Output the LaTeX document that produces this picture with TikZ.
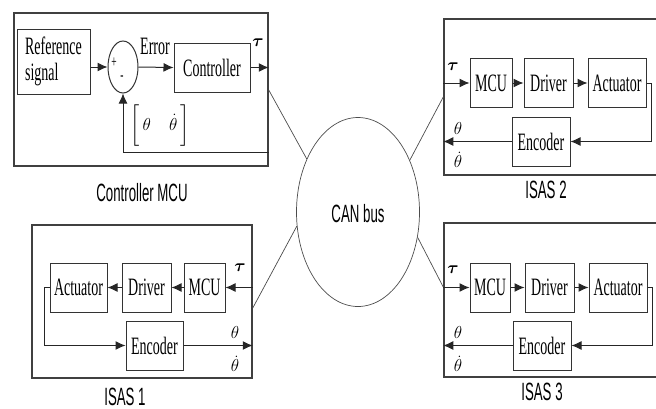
\documentclass[tikz,border=0pt]{standalone}
\usepackage{amsmath}
\usepackage{fontspec}
\setmainfont{Liberation Serif}[FakeStretch=0.56]
\newfontfamily\capfont{Liberation Sans}[FakeStretch=0.53]
\usetikzlibrary{shapes.geometric,arrows.meta}

\begin{document}
\begin{tikzpicture}[x=1pt, y=-1pt, line width=1pt, draw=black!85, >={Latex[length=10pt,width=9pt]},
	every node/.style={font=\fontsize{25}{26}\selectfont},
	blk/.style={draw=black!80, line width=1pt, inner sep=0pt, minimum height=49pt},
	frm/.style={draw=black!75, line width=1.5pt, inner sep=0pt},
	caption/.style={font=\capfont\fontsize{25}{26}\selectfont},
	sym/.style={font=\fontsize{18}{20}\selectfont, inner sep=0pt},
	bus/.style={draw=black!70, line width=0.7pt}]
	\useasboundingbox (0,0) rectangle (656,408);

	% controller MCU
	\node[frm, minimum width=254pt, minimum height=153pt] (cmcu) at (141,89.5) {};
	\node[blk, minimum width=73pt, minimum height=65pt, align=left] (ref) at (53.5,61.5) {Reference\\signal};
	\node[draw=black!80, line width=1pt, ellipse, minimum width=30pt, minimum height=52pt, inner sep=0pt] (sum) at (123,67) {};
	\node[font=\fontsize{17}{17}\selectfont, inner sep=0pt] (plus) at (114,63) {+};
	\node[font=\fontsize{17}{17}\selectfont, inner sep=0pt] (minus) at (122,78) {-};
	\node[blk, minimum width=76pt] (ctrl) at (212,67.5) {Controller};
	\node (err) at (155,46) {Error};
	\node[sym] (tau0) at (258,43) {$\boldsymbol{\tau}$};
	\node[sym] (fb0) at (160,126) {$\bigg[\,\theta\quad\dot{\theta}\,\bigg]$};
	\draw[->] (ref.east |- sum.west) -- (sum.west);
	\draw[->] (sum.east) -- (ctrl.west);
	\draw[->] (ctrl.east) -- (cmcu.east |- ctrl.east);
	\draw[->] (cmcu.east |- 0,152) -| (sum.south);
	\node[caption] (cmculbl) at (142,193) {Controller MCU};

	% CAN bus
	\node[bus, ellipse, minimum width=123pt, minimum height=189pt, inner sep=0pt] (can) at (358,212) {};
	\node[caption] (canlbl) at (358,214) {CAN bus};

	% ISAS 2
	\node[frm, minimum width=213pt, minimum height=156pt] (isas2) at (550.5,97) {};
	\node[blk, minimum width=42pt] (mcu2) at (491,83) {MCU};
	\node[blk, minimum width=49pt] (drv2) at (548.5,83) {Driver};
	\node[blk, minimum width=58pt] (act2) at (617,83) {Actuator};
	\node[blk, minimum width=58pt] (enc2) at (541,141.5) {Encoder};
	\draw[->] (isas2.west |- mcu2.west) -- (mcu2.west);
	\draw[->] (mcu2) -- (drv2);
	\draw[->] (drv2) -- (act2);
	\draw[->] (act2.east) -- ++(5,0) |- (enc2.east);
	\draw[->] (enc2.west) -- (isas2.west |- enc2.west);
	\node[sym] (tau2) at (453,67) {$\boldsymbol{\tau}$};
	\node[sym] (th2) at (458,128) {$\theta$};
	\node[sym] (thd2) at (458,160) {$\dot{\theta}$};
	\node[caption] (isas2lbl) at (546,190) {ISAS 2};

	% ISAS 3
	\node[frm, minimum width=213pt, minimum height=154pt] (isas3) at (550.5,300) {};
	\node[blk, minimum width=40pt] (mcu3) at (490,287.5) {MCU};
	\node[blk, minimum width=49pt] (drv3) at (549.5,287.5) {Driver};
	\node[blk, minimum width=58pt] (act3) at (618,287.5) {Actuator};
	\node[blk, minimum width=58pt] (enc3) at (542,345.5) {Encoder};
	\draw[->] (isas3.west |- mcu3.west) -- (mcu3.west);
	\draw[->] (mcu3) -- (drv3);
	\draw[->] (drv3) -- (act3);
	\draw[->] (act3.east) -- ++(5,0) |- (enc3.east);
	\draw[->] (enc3.west) -- (isas3.west |- enc3.west);
	\node[sym] (tau3) at (453,270) {$\boldsymbol{\tau}$};
	\node[sym] (th3) at (458,332) {$\theta$};
	\node[sym] (thd3) at (458,364) {$\dot{\theta}$};
	\node[caption] (isas3lbl) at (542,392) {ISAS 3};

	% ISAS 1
	\node[frm, minimum width=220pt, minimum height=153pt] (isas1) at (142,301.5) {};
	\node[blk, minimum width=57pt] (act1) at (78.5,287.5) {Actuator};
	\node[blk, minimum width=49pt] (drv1) at (146.5,287.5) {Driver};
	\node[blk, minimum width=41pt] (mcu1) at (204.5,287.5) {MCU};
	\node[blk, minimum width=57pt] (enc1) at (154.5,345.5) {Encoder};
	\draw[->] (isas1.east |- mcu1.east) -- (mcu1.east);
	\draw[->] (mcu1) -- (drv1);
	\draw[->] (drv1) -- (act1);
	\draw[->] (act1.west) -- ++(-5,0) |- (enc1.west);
	\draw[->] (enc1.east) -- (isas1.east |- enc1.east);
	\node[sym] (tau1) at (240,268) {$\boldsymbol{\tau}$};
	\node[sym] (th1) at (235,332) {$\theta$};
	\node[sym] (thd1) at (235,364) {$\dot{\theta}$};
	\node[caption] (isas1lbl) at (125,397) {ISAS 1};

	% links to the bus
	\draw[bus] (cmcu.east |- 0,90) -- (can.134);
	\draw[bus] (isas2.west |- 0,97) -- (can.45);
	\draw[bus] (isas1.east |- 0,308) -- (can.193);
	\draw[bus] (isas3.west |- 0,287) -- (can.337);
\end{tikzpicture}
\end{document}
